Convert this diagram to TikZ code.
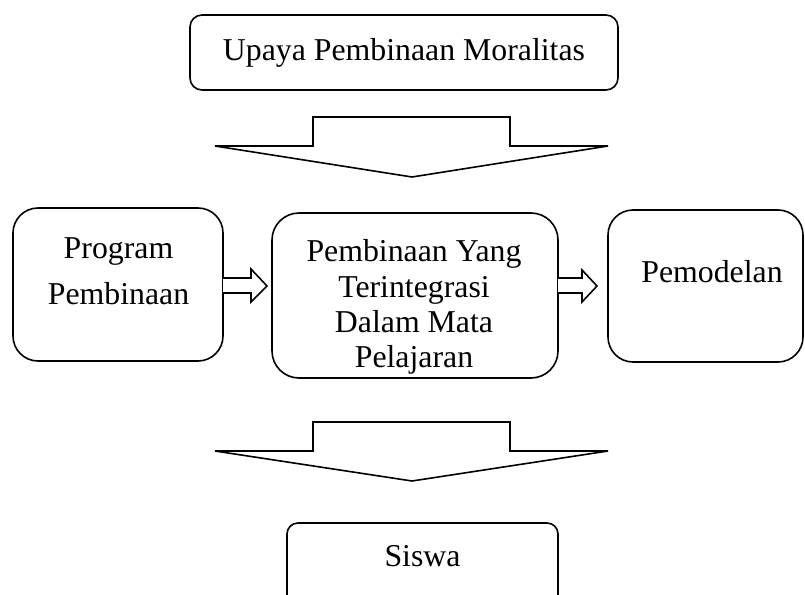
\documentclass[tikz,border=0pt]{standalone}
\usepackage{fontspec}
\setmainfont{Liberation Serif}
\begin{document}
\begin{tikzpicture}[x=1pt,y=-1pt,
  box/.style={draw,line width=1.6pt,inner sep=0pt},
  lbl/.style={anchor=base,inner sep=0pt,font=\fontsize{31.8}{34}\selectfont},
  blockarrow/.style={draw,line width=1.6pt,line join=miter,fill=white}]
\useasboundingbox (0,0) rectangle (805,594);
\clip (0,0) rectangle (805,594);
% boxes
\draw[box,rounded corners=12pt] (190,15) rectangle (618,90);
\node[inner sep=0pt] (top) at (404,52.5) {};
\draw[box,rounded corners=25pt] (13,208) rectangle (223,361);
\node[inner sep=0pt] (left) at (118,284.5) {};
\draw[box,rounded corners=27pt] (272,213) rectangle (558,378);
\node[inner sep=0pt] (mid) at (415,295.5) {};
\draw[box,rounded corners=25pt] (608,210) rectangle (803,362);
\node[inner sep=0pt] (right) at (705.5,286) {};
\draw[box,rounded corners=11pt] (287,523) rectangle (558,610);
\node[inner sep=0pt] (bot) at (422.5,560) {};
% labels
\node[lbl] (t1) at (404,60) {Upaya Pembinaan Moralitas};
\node[lbl] (l1) at (118.5,258) {Program};
\node[lbl] (l2) at (118.5,304) {Pembinaan};
\node[lbl] (m1) at (414,261) {Pembinaan Yang};
\node[lbl] (m2) at (414,297) {Terintegrasi};
\node[lbl] (m3) at (414,332.5) {Dalam Mata};
\node[lbl] (m4) at (414,367.5) {Pelajaran};
\node[lbl] (r1) at (712,282) {Pemodelan};
\node[lbl] (b1) at (422.5,566) {Siswa};
% big block arrows
\draw[blockarrow] (313,117) -- (510,117) -- (510,146) -- (608,146) -- (412,177)
  -- (215,146) -- (313,146) -- cycle;
\draw[blockarrow] (313,422) -- (510,422) -- (510,451) -- (608,451) -- (412,481)
  -- (215,451) -- (313,451) -- cycle;
% small block arrows
\draw[blockarrow] (223,278) -- (251,278) -- (251,269) -- (267,286) -- (251,302)
  -- (251,293) -- (223,293);
\draw[blockarrow] (558,278) -- (582,278) -- (582,270) -- (597,286) -- (582,302)
  -- (582,293) -- (558,293);
\end{tikzpicture}
\end{document}
